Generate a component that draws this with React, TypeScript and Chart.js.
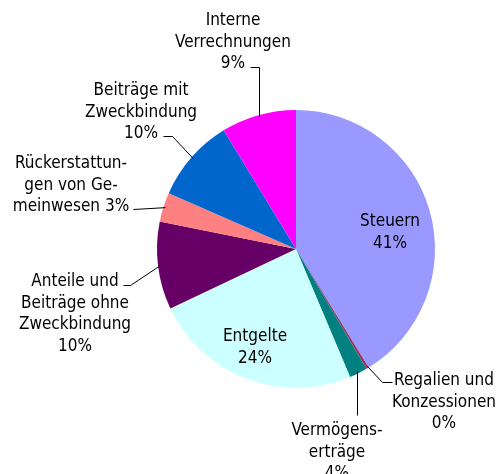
import React, { useEffect, useRef } from "react";
import { Chart, registerables } from "chart.js";

Chart.register(...registerables);

const categories = [
  "Steuern",
  "Regalien und Konzessionen",
  "Vermögenserträge",
  "Entgelte",
  "Anteile und Beiträge ohne Zweckbindung",
  "Rückerstattungen von Gemeinwesen",
  "Beiträge mit Zweckbindung",
  "Interne Verrechnungen",
];
const shares = [41.2, 0.3, 2.1, 24.3, 10.2, 3.4, 9.7, 8.7];
const percentLabels = ["41%", "0%", "4%", "24%", "10%", "3%", "10%", "9%"];
const nameLines = [
  ["Steuern"],
  ["Regalien und", "Konzessionen"],
  ["Vermögens-", "erträge"],
  ["Entgelte"],
  ["Anteile und", "Beiträge ohne", "Zweckbindung"],
  ["Rückerstattun-", "gen von Ge-", "meinwesen"],
  ["Beiträge mit", "Zweckbindung"],
  ["Interne", "Verrechnungen"],
];
const percentInline = [false, false, false, false, false, true, false, false];
const colors = ["#9999FF", "#993366", "#008080", "#CCFFFF", "#660066", "#FF8080", "#0066CC", "#FF00FF"];

// label placement (text centre x, first baseline y, leader path after the arc point)
type Place = { x: number; y: number; path: Array<[number | null, number]> };
const placements: Place[] = [
  { x: 390, y: 226, path: [] },
  { x: 444, y: 385, path: [[382, 382], [392, 382]] },
  { x: 337, y: 435, path: [[null, 415]] },
  { x: 255, y: 341, path: [] },
  { x: 75, y: 286, path: [[130, 285], [123, 285]] },
  { x: 71, y: 168, path: [[133, 209]] },
  { x: 141, y: 95, path: [[172, 136], [163, 136]] },
  { x: 233, y: 25, path: [[null, 67], [250, 67]] },
];

const labelPlugin = {
  id: "pieLabels",
  afterDatasetsDraw(chart: any) {
    const ctx = chart.ctx;
    const meta = chart.getDatasetMeta(0);
    ctx.save();
    ctx.font = '17px "DejaVu Sans Condensed", "Liberation Sans", sans-serif';
    ctx.fillStyle = "#000000";
    ctx.strokeStyle = "#000000";
    ctx.lineWidth = 1;
    ctx.textAlign = "center";
    ctx.textBaseline = "alphabetic";
    meta.data.forEach((arc: any, i: number) => {
      const p = placements[i];
      const lines = nameLines[i].slice();
      if (percentInline[i]) lines[lines.length - 1] += " " + percentLabels[i];
      else lines.push(percentLabels[i]);
      lines.forEach((t, k) => ctx.fillText(t, p.x, p.y + k * 21.5));
      if (p.path.length) {
        const { x, y, startAngle, endAngle, outerRadius } = arc.getProps(
          ["x", "y", "startAngle", "endAngle", "outerRadius"],
          true
        );
        const mid = (startAngle + endAngle) / 2;
        const ax = x + Math.cos(mid) * (outerRadius - 2);
        const ay = y + Math.sin(mid) * (outerRadius - 2);
        ctx.beginPath();
        ctx.moveTo(Math.round(ax) + 0.5, ay);
        let px = ax;
        p.path.forEach(([qx, qy]) => {
          const nx = qx === null ? px : qx;
          ctx.lineTo(Math.round(nx) + 0.5, Math.round(qy) + 0.5);
          px = nx;
        });
        ctx.stroke();
      }
    });
    ctx.restore();
  },
};

export default function App() {
  const ref = useRef<HTMLCanvasElement | null>(null);
  useEffect(() => {
    if (!ref.current) return;
    const chart = new Chart(ref.current, {
      type: "pie",
      data: {
        labels: categories,
        datasets: [
          {
            data: shares,
            backgroundColor: colors,
            borderWidth: 0,
          },
        ],
      },
      options: {
        responsive: false,
        animation: false,
        layout: { padding: { left: 157, right: 64, top: 110, bottom: 86 } },
        plugins: {
          legend: { display: false },
          tooltip: { enabled: false },
        },
      },
      plugins: [labelPlugin],
    });
    return () => chart.destroy();
  }, []);
  return (
    <div style={{ position: "absolute", left: 0, top: 0, width: 499, height: 474, background: "#fff" }}>
      <canvas ref={ref} width={499} height={474} style={{ width: 499, height: 474, display: "block" }} />
    </div>
  );
}
